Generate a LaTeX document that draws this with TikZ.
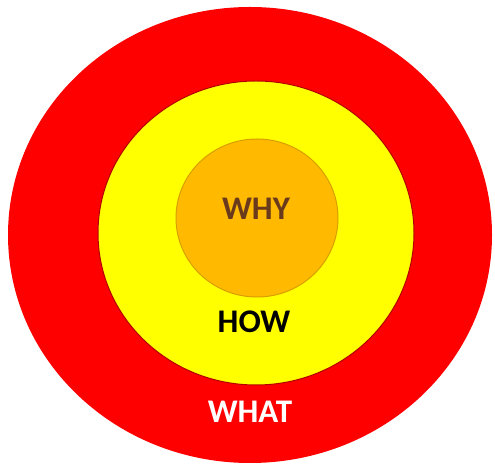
\documentclass[tikz,border=0pt]{standalone}
\usepackage{fontspec}
\setmainfont{Carlito}
\usetikzlibrary{shapes.geometric}
\definecolor{ringred}{HTML}{FE0000}
\definecolor{ringyellow}{HTML}{FFFF00}
\definecolor{ringorange}{HTML}{FFBA00}
\definecolor{whybrown}{HTML}{6A3A1C}
\tikzset{
  ring/.style={ellipse, inner sep=0pt, outer sep=0pt},
  lbl/.style={font=\fontsize{33}{34}\selectfont\bfseries, inner sep=0pt}
}
\begin{document}
\begin{tikzpicture}[x=1pt,y=1pt]
\useasboundingbox (0,0) rectangle (495,465);
\fill[white] (0,0) rectangle (495,465);
\node[ring, fill=ringred, minimum width=484pt, minimum height=456pt] (what) at (250,230) {};
\node[ring, fill=ringyellow, draw=ringred!70!black, line width=1pt, minimum width=316pt, minimum height=304pt] (how) at (256,232) {};
\node[ring, fill=ringorange, draw=ringorange!85!black, line width=1pt, minimum width=162pt, minimum height=158pt] (why) at (257,247) {};
\node[lbl, text=whybrown] (whyt) at (256,256) {WHY};
\node[lbl, text=black] (howt) at (254,143) {HOW};
\node[lbl, text=white] (whatt) at (250,53) {WHAT};
\end{tikzpicture}
\end{document}
